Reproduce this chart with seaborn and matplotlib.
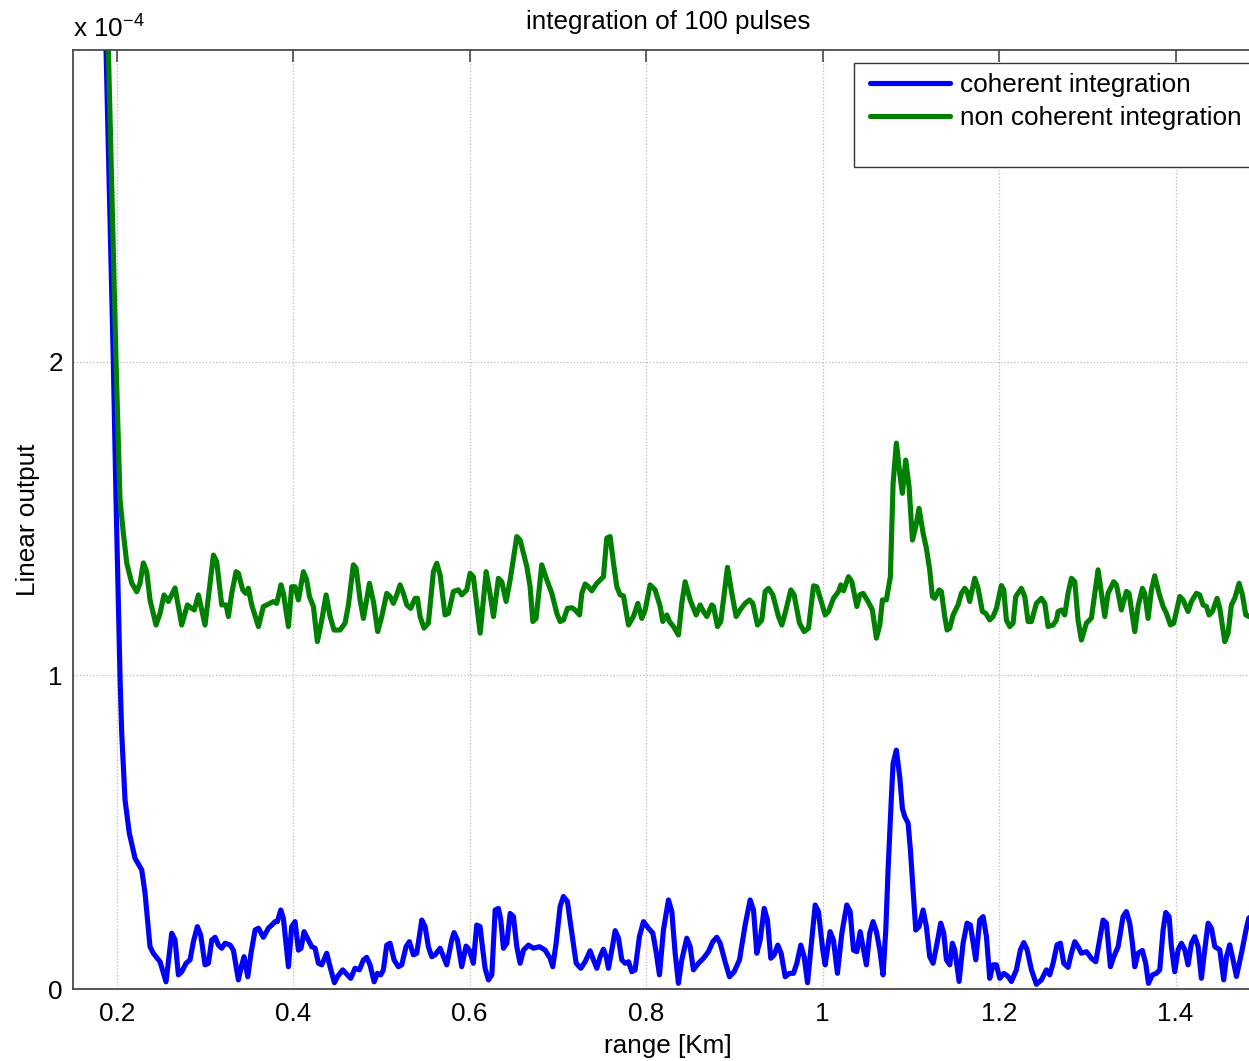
import numpy as np
import pandas as pd
import matplotlib
matplotlib.use("Agg")
import matplotlib.pyplot as plt
from matplotlib.lines import Line2D
from matplotlib.patches import Rectangle
from matplotlib.ticker import FixedLocator, FixedFormatter
import seaborn as sns

# ---------------- data (range in km, output in units of 1e-4) ----------------
range_coherent = [
    0.1839, 0.18787, 0.19615, 0.19921, 0.20181, 0.20374, 0.20567, 0.20941, 0.21428, 0.22074,
    0.22834, 0.23208, 0.23774, 0.24148, 0.24908, 0.25588, 0.26234, 0.26608,
    0.2699, 0.2737, 0.2786, 0.2831, 0.2869, 0.2914, 0.2952, 0.3001, 0.3039, 0.3077,
    0.3115, 0.3152, 0.3190, 0.3228, 0.3285, 0.3322, 0.3379, 0.3417, 0.3443, 0.3485,
    0.3522, 0.3568, 0.3606, 0.3662, 0.3719, 0.3757, 0.3795, 0.3821, 0.3859, 0.3889,
    0.3946, 0.3983, 0.4021, 0.4059, 0.4089, 0.4123, 0.4161, 0.4210, 0.4248, 0.4286,
    0.4324, 0.4380, 0.4418, 0.4467, 0.4501, 0.4561, 0.4614, 0.4652, 0.4701, 0.4750,
    0.4796, 0.4833, 0.4871, 0.4917, 0.4954, 0.4992, 0.5022, 0.5060, 0.5098, 0.5143,
    0.5192, 0.5230, 0.5279, 0.5317, 0.5362, 0.5400, 0.5438, 0.5457, 0.5495, 0.5532,
    0.5570, 0.5608, 0.5665, 0.5695, 0.5740, 0.5797, 0.5823, 0.5861, 0.5910, 0.5959,
    0.5997, 0.6042, 0.6080, 0.6118, 0.6149, 0.6175, 0.6213, 0.6251, 0.6289, 0.6326,
    0.6353, 0.6383, 0.6421, 0.6459, 0.6496, 0.6534, 0.6572, 0.6610, 0.6666, 0.6723,
    0.6791, 0.6855, 0.6912, 0.6942, 0.6980, 0.7025, 0.7063, 0.7108, 0.7158, 0.7207,
    0.7260, 0.7309, 0.7365, 0.7403, 0.7441, 0.7479, 0.7516, 0.7547, 0.7573, 0.7611,
    0.7649, 0.7687, 0.7724, 0.7762, 0.7800, 0.7838, 0.7875, 0.7924, 0.7970, 0.8026,
    0.8076, 0.8113, 0.8151, 0.8196, 0.8253, 0.8291, 0.8329, 0.8366, 0.8404, 0.8461,
    0.8499, 0.8536, 0.8593, 0.8650, 0.8706, 0.8756, 0.8801, 0.8839, 0.8895, 0.8945,
    0.8998, 0.9058, 0.9122, 0.9179, 0.9217, 0.9254, 0.9292, 0.9338, 0.9375, 0.9413,
    0.9451, 0.9492, 0.9530, 0.9576, 0.9625, 0.9670, 0.9708, 0.9753, 0.9791, 0.9829,
    0.9866, 0.9916, 0.9953, 1.0002, 1.0029, 1.0085, 1.0123, 1.0168, 1.0218, 1.0274,
    1.0312, 1.0350, 1.0388, 1.0426, 1.0496, 1.0534, 1.0572, 1.0610, 1.0648, 1.0685,
    1.0716, 1.0742, 1.0780, 1.0799, 1.0836, 1.0874, 1.0904, 1.0931, 1.0969, 1.0995,
    1.1025, 1.1056, 1.1093, 1.1139, 1.1176, 1.1214, 1.1252, 1.1290, 1.1339, 1.1373,
    1.1403, 1.1441, 1.1471, 1.1498, 1.1547, 1.1592, 1.1637, 1.1675, 1.1736, 1.1781,
    1.1819, 1.1857, 1.1894, 1.1932, 1.1970, 1.2008, 1.2053, 1.2102, 1.2140, 1.2196,
    1.2242, 1.2280, 1.2318, 1.2367, 1.2423, 1.2480, 1.2536, 1.2574, 1.2612, 1.2657,
    1.2695, 1.2733, 1.2782, 1.2820, 1.2858, 1.2895, 1.2933, 1.2990, 1.3046, 1.3096,
    1.3133, 1.3179, 1.3217, 1.3262, 1.3300, 1.3349, 1.3405, 1.3443, 1.3481, 1.3511,
    1.3538, 1.3575, 1.3624, 1.3662, 1.3693, 1.3738, 1.3783, 1.3821, 1.3859, 1.3889,
    1.3927, 1.3953, 1.3991, 1.4029, 1.4067, 1.4105, 1.4142, 1.4180, 1.4218, 1.4256,
    1.4293, 1.4331, 1.4369, 1.4407, 1.4445, 1.4501, 1.4546, 1.4577, 1.4614, 1.4652,
    1.4690, 1.4747, 1.4803, 1.4830, 1.4900,
]
coherent = [
    3.60, 3.00, 2.00, 1.56, 1.24, 0.996, 0.816, 0.603, 0.497, 0.417,
    0.380, 0.306, 0.135, 0.114, 0.087, 0.023, 0.178, 0.157,
    0.045, 0.055, 0.082, 0.093, 0.151, 0.199, 0.172, 0.077, 0.082, 0.156,
    0.165, 0.140, 0.130, 0.146, 0.140, 0.124, 0.029, 0.077, 0.103, 0.039,
    0.114, 0.188, 0.194, 0.165, 0.194, 0.204, 0.215, 0.215, 0.252, 0.225,
    0.071, 0.199, 0.215, 0.124, 0.130, 0.183, 0.162, 0.135, 0.130, 0.082,
    0.077, 0.114, 0.071, 0.020, 0.039, 0.061, 0.045, 0.034, 0.066, 0.061,
    0.093, 0.101, 0.077, 0.023, 0.050, 0.045, 0.061, 0.140, 0.146, 0.093,
    0.071, 0.077, 0.135, 0.151, 0.109, 0.114, 0.183, 0.220, 0.199, 0.135,
    0.103, 0.109, 0.130, 0.109, 0.077, 0.156, 0.180, 0.156, 0.071, 0.137,
    0.124, 0.082, 0.204, 0.199, 0.124, 0.066, 0.029, 0.045, 0.252, 0.257,
    0.220, 0.130, 0.146, 0.241, 0.231, 0.135, 0.082, 0.124, 0.140, 0.130,
    0.135, 0.124, 0.098, 0.071, 0.146, 0.263, 0.295, 0.279, 0.178, 0.082,
    0.066, 0.087, 0.122, 0.093, 0.066, 0.103, 0.127, 0.103, 0.066, 0.124,
    0.186, 0.162, 0.093, 0.082, 0.087, 0.055, 0.061, 0.167, 0.215, 0.194,
    0.178, 0.119, 0.045, 0.188, 0.284, 0.247, 0.114, 0.018, 0.093, 0.162,
    0.135, 0.061, 0.082, 0.098, 0.119, 0.151, 0.165, 0.146, 0.087, 0.039,
    0.055, 0.093, 0.204, 0.284, 0.252, 0.114, 0.156, 0.257, 0.220, 0.098,
    0.109, 0.140, 0.114, 0.039, 0.050, 0.050, 0.082, 0.140, 0.103, 0.020,
    0.124, 0.268, 0.247, 0.124, 0.077, 0.183, 0.156, 0.050, 0.178, 0.268,
    0.247, 0.124, 0.119, 0.183, 0.077, 0.178, 0.215, 0.183, 0.125, 0.045,
    0.188, 0.380, 0.614, 0.720, 0.762, 0.677, 0.576, 0.550, 0.529, 0.444,
    0.316, 0.188, 0.199, 0.252, 0.199, 0.103, 0.082, 0.135, 0.210, 0.178,
    0.093, 0.077, 0.146, 0.125, 0.024, 0.146, 0.210, 0.204, 0.093, 0.220,
    0.231, 0.167, 0.034, 0.077, 0.077, 0.034, 0.050, 0.040, 0.024, 0.061,
    0.125, 0.148, 0.125, 0.061, 0.015, 0.029, 0.061, 0.045, 0.082, 0.141,
    0.146, 0.082, 0.069, 0.114, 0.151, 0.135, 0.114, 0.119, 0.098, 0.087,
    0.146, 0.220, 0.210, 0.071, 0.103, 0.135, 0.231, 0.247, 0.210, 0.146,
    0.071, 0.114, 0.123, 0.082, 0.018, 0.045, 0.050, 0.061, 0.188, 0.244,
    0.231, 0.135, 0.055, 0.125, 0.146, 0.125, 0.077, 0.146, 0.167, 0.135,
    0.034, 0.125, 0.210, 0.194, 0.135, 0.125, 0.029, 0.103, 0.141, 0.093,
    0.040, 0.114, 0.194, 0.226, 0.240,
]

range_noncoherent = [
    0.1862, 0.1905, 0.19921, 0.20374, 0.20748, 0.21133, 0.21700, 0.22267, 0.22641, 0.23015,
    0.23400, 0.23774, 0.24454, 0.24908, 0.25361, 0.25848, 0.26608, 0.26982, 0.27367,
    0.2801, 0.2850, 0.2880, 0.2926, 0.3001, 0.3096, 0.3133, 0.3190, 0.3239, 0.3266,
    0.3303, 0.3353, 0.3379, 0.3428, 0.3462, 0.3492, 0.3530, 0.3606, 0.3662, 0.3700,
    0.3776, 0.3813, 0.3862, 0.3889, 0.3946, 0.3983, 0.4021, 0.4059, 0.4116, 0.4153,
    0.4184, 0.4229, 0.4274, 0.4324, 0.4373, 0.4418, 0.4463, 0.4531, 0.4588, 0.4626,
    0.4682, 0.4713, 0.4758, 0.4796, 0.4864, 0.4909, 0.4958, 0.5004, 0.5060, 0.5098,
    0.5136, 0.5174, 0.5211, 0.5249, 0.5287, 0.5332, 0.5381, 0.5408, 0.5438, 0.5483,
    0.5532, 0.5589, 0.5627, 0.5665, 0.5721, 0.5759, 0.5816, 0.5872, 0.5910, 0.5967,
    0.6005, 0.6042, 0.6080, 0.6119, 0.6187, 0.6224, 0.6270, 0.6326, 0.6364, 0.6413,
    0.6459, 0.6534, 0.6572, 0.6648, 0.6685, 0.6716, 0.6753, 0.6817, 0.6874, 0.6931,
    0.6988, 0.7025, 0.7063, 0.7108, 0.7158, 0.7195, 0.7245, 0.7271, 0.7309, 0.7346,
    0.7384, 0.7441, 0.7516, 0.7554, 0.7592, 0.7630, 0.7668, 0.7705, 0.7743, 0.7800,
    0.7856, 0.7906, 0.7951, 0.7989, 0.8045, 0.8102, 0.8159, 0.8189, 0.8234, 0.8265,
    0.8310, 0.8366, 0.8404, 0.8442, 0.8499, 0.8567, 0.8612, 0.8650, 0.8688, 0.8744,
    0.8763, 0.8809, 0.8846, 0.8922, 0.8971, 0.9020, 0.9065, 0.9122, 0.9171, 0.9209,
    0.9262, 0.9311, 0.9349, 0.9387, 0.9436, 0.9500, 0.9538, 0.9575, 0.9640, 0.9677,
    0.9738, 0.9791, 0.9840, 0.9897, 0.9934, 0.9991, 1.0029, 1.0067, 1.0123, 1.0180,
    1.0206, 1.0237, 1.0293, 1.0331, 1.0388, 1.0421, 1.0459, 1.0515, 1.0564, 1.0610,
    1.0648, 1.0678, 1.0723, 1.0768, 1.0799, 1.0836, 1.0874, 1.0904, 1.0942, 1.0980,
    1.1018, 1.1056, 1.1093, 1.1139, 1.1176, 1.1214, 1.1244, 1.1271, 1.1320, 1.1346,
    1.1384, 1.1411, 1.1441, 1.1479, 1.1535, 1.1573, 1.1611, 1.1637, 1.1667, 1.1724,
    1.1762, 1.1811, 1.1849, 1.1894, 1.1932, 1.1970, 1.2026, 1.2053, 1.2083, 1.2121,
    1.2159, 1.2189, 1.2253, 1.2291, 1.2329, 1.2366, 1.2423, 1.2480, 1.2518, 1.2555,
    1.2612, 1.2650, 1.2669, 1.2707, 1.2744, 1.2782, 1.2820, 1.2858, 1.2895, 1.2933,
    1.2990, 1.3046, 1.3122, 1.3160, 1.3198, 1.3235, 1.3299, 1.3330, 1.3386, 1.3443,
    1.3473, 1.3538, 1.3575, 1.3625, 1.3651, 1.3689, 1.3727, 1.3764, 1.3813, 1.3859,
    1.3897, 1.3942, 1.3980, 1.4048, 1.4085, 1.4142, 1.4180, 1.4236, 1.4274, 1.4312,
    1.4350, 1.4380, 1.4418, 1.4471, 1.4501, 1.4558, 1.4596, 1.4633, 1.4671, 1.4720,
    1.4758, 1.4796, 1.4830, 1.4900,
]
noncoherent = [
    3.60, 3.00, 2.00, 1.56, 1.455, 1.359, 1.295, 1.267, 1.294, 1.359,
    1.331, 1.241, 1.161, 1.198, 1.257, 1.236, 1.279, 1.220, 1.161,
    1.225, 1.214, 1.209, 1.257, 1.161, 1.384, 1.363, 1.225, 1.225, 1.188,
    1.262, 1.331, 1.326, 1.273, 1.262, 1.278, 1.225, 1.156, 1.220, 1.225,
    1.236, 1.230, 1.289, 1.262, 1.156, 1.283, 1.283, 1.241, 1.331, 1.305,
    1.252, 1.220, 1.108, 1.177, 1.257, 1.188, 1.145, 1.145, 1.167, 1.225,
    1.353, 1.342, 1.241, 1.182, 1.294, 1.236, 1.140, 1.188, 1.262, 1.252,
    1.230, 1.257, 1.289, 1.262, 1.225, 1.214, 1.246, 1.246, 1.188, 1.151,
    1.167, 1.331, 1.358, 1.321, 1.193, 1.198, 1.268, 1.273, 1.257, 1.273,
    1.326, 1.315, 1.225, 1.135, 1.331, 1.273, 1.188, 1.310, 1.299, 1.236,
    1.305, 1.443, 1.432, 1.347, 1.283, 1.172, 1.182, 1.353, 1.305, 1.262,
    1.198, 1.172, 1.177, 1.214, 1.216, 1.209, 1.193, 1.262, 1.292, 1.283,
    1.270, 1.294, 1.315, 1.438, 1.443, 1.358, 1.283, 1.257, 1.254, 1.161,
    1.188, 1.230, 1.182, 1.209, 1.289, 1.273, 1.220, 1.172, 1.193, 1.172,
    1.156, 1.129, 1.230, 1.299, 1.241, 1.193, 1.225, 1.204, 1.188, 1.225,
    1.220, 1.156, 1.172, 1.345, 1.262, 1.188, 1.209, 1.230, 1.241, 1.230,
    1.161, 1.177, 1.268, 1.278, 1.257, 1.188, 1.161, 1.198, 1.273, 1.257,
    1.167, 1.140, 1.151, 1.286, 1.283, 1.230, 1.193, 1.204, 1.246, 1.268,
    1.289, 1.270, 1.315, 1.299, 1.220, 1.257, 1.262, 1.236, 1.209, 1.119,
    1.161, 1.241, 1.241, 1.315, 1.613, 1.741, 1.645, 1.581, 1.687, 1.602,
    1.432, 1.475, 1.533, 1.454, 1.406, 1.337, 1.252, 1.246, 1.273, 1.268,
    1.188, 1.145, 1.151, 1.193, 1.225, 1.262, 1.278, 1.268, 1.236, 1.310,
    1.278, 1.204, 1.198, 1.177, 1.188, 1.214, 1.287, 1.273, 1.177, 1.156,
    1.167, 1.252, 1.278, 1.252, 1.172, 1.172, 1.230, 1.246, 1.230, 1.156,
    1.161, 1.177, 1.204, 1.209, 1.193, 1.262, 1.310, 1.299, 1.177, 1.113,
    1.167, 1.183, 1.337, 1.262, 1.188, 1.262, 1.299, 1.289, 1.209, 1.268,
    1.262, 1.140, 1.220, 1.278, 1.262, 1.182, 1.273, 1.318, 1.262, 1.220,
    1.198, 1.161, 1.167, 1.252, 1.241, 1.204, 1.236, 1.262, 1.257, 1.225,
    1.220, 1.193, 1.204, 1.246, 1.215, 1.108, 1.135, 1.225, 1.246, 1.294,
    1.257, 1.193, 1.188, 1.200,
]

series_labels = ["coherent integration", "non coherent integration"]
series_colors = ["#0000ff", "#008000"]

x_ticks = [0.2, 0.4, 0.6, 0.8, 1.0, 1.2, 1.4]
x_tick_labels = ["0.2", "0.4", "0.6", "0.8", "1", "1.2", "1.4"]
y_ticks = [0, 1, 2]
y_tick_labels = ["0", "1", "2"]

# ---------------- style ----------------
sns.set_theme(style="white")
plt.rcParams["font.family"] = ["Liberation Sans", "DejaVu Sans"]
plt.rcParams["mathtext.fontset"] = "custom"
plt.rcParams["mathtext.rm"] = "Liberation Sans"
plt.rcParams["mathtext.it"] = "Liberation Sans"
plt.rcParams["mathtext.default"] = "regular"
plt.rcParams["text.color"] = "black"
plt.rcParams["axes.labelcolor"] = "black"
plt.rcParams["axes.titlecolor"] = "black"

FS = 18.8
W, H = 1249, 1061
fig = plt.figure(figsize=(W / 100, H / 100), dpi=100)
ax = fig.add_axes([0.05813, 0.06786, 0.9537, 0.88501])

for xs, ys, lab, col in zip([range_coherent, range_noncoherent],
                            [coherent, noncoherent], series_labels, series_colors):
    df = pd.DataFrame({"range": xs, "output": ys})
    sns.lineplot(data=df, x="range", y="output", ax=ax, color=col, lw=3.7,
                 sort=False, estimator=None, label=lab, legend=False)

ax.set_xlim(0.15, 1.5)
ax.set_ylim(0, 2.995)
ax.xaxis.set_major_locator(FixedLocator(x_ticks))
ax.xaxis.set_major_formatter(FixedFormatter(x_tick_labels))
ax.yaxis.set_major_locator(FixedLocator(y_ticks))
ax.yaxis.set_major_formatter(FixedFormatter(y_tick_labels))

ax.grid(True, linestyle=":", color="#b8b8b8", linewidth=0.9)
for sp in ax.spines.values():
    sp.set_color("#4a4a4a")
    sp.set_linewidth(1.3)
ax.tick_params(direction="in", length=8.5, width=1.2, color="#4a4a4a",
               top=True, right=True, labelsize=FS, labelcolor="black")
ax.tick_params(axis="x", pad=9)
ax.tick_params(axis="y", pad=7)

ax.set_title("integration of 100 pulses", fontsize=FS, pad=15, color="black")
ax.set_xlabel("range [Km]", fontsize=FS, labelpad=6, color="black")
ax.set_ylabel("Linear output", fontsize=FS, labelpad=6, color="black")
ax.text(0.0, 1.008, "x 10$^{-4}$", transform=ax.transAxes, fontsize=FS,
        ha="left", va="bottom", color="black")
ax.yaxis.get_offset_text().set_visible(False)

# legend box: wide frame running off the right edge, with a blank third row
box = Rectangle((854 / W, 1 - 167 / H), 0.4, 104 / H, transform=fig.transFigure,
                facecolor="white", edgecolor="#333333", linewidth=1.0, zorder=3)
fig.add_artist(box)

handles = [Line2D([], [], color=c, lw=3.7) for c in series_colors]
leg = fig.legend(handles, series_labels, loc="upper left",
                 bbox_to_anchor=(870 / W, 1 - 73 / H),
                 fontsize=FS, frameon=False, handlelength=3.05,
                 handletextpad=0.38, labelspacing=0.36, borderpad=0,
                 borderaxespad=0, labelcolor="black")
leg.set_zorder(5)

fig.savefig("out.png", dpi=100)
